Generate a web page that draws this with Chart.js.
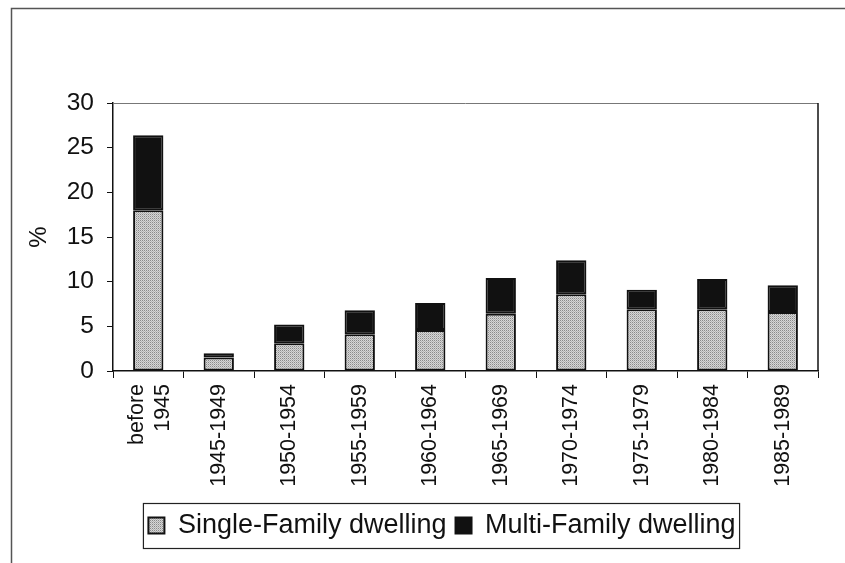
<!DOCTYPE html>
<html>
<head>
<meta charset="utf-8">
<script src="https://cdn.jsdelivr.net/npm/chart.js@4.4.1/dist/chart.umd.min.js"></script>
<style>
  html, body { margin: 0; padding: 0; background: #fff; }
  #wrap { width: 845px; height: 563px; }
</style>
</head>
<body>
<div id="wrap"><canvas id="chart" width="845" height="563"></canvas></div>
<script>
// periods of construction
const periods = [['before', '1945'], '1945-1949', '1950-1954', '1955-1959', '1960-1964',
  '1965-1969', '1970-1974', '1975-1979', '1980-1984', '1985-1989'];
// share of dwellings, %
const singleFamily = [18.0, 1.5, 3.1, 4.1, 4.6, 6.4, 8.6, 6.9, 6.9, 6.6];
const multiFamily = [8.4, 0.5, 2.1, 2.7, 3.0, 4.0, 3.8, 2.2, 3.4, 3.0];
const yTicks = [0, 5, 10, 15, 20, 25, 30];

const FONT = "'Liberation Sans', Arial, sans-serif";

// stippled grey fill like the scanned original
function stipple() {
  const c = document.createElement('canvas');
  c.width = 2; c.height = 2;
  const g = c.getContext('2d');
  g.fillStyle = '#d6d6d6';
  g.fillRect(0, 0, 2, 2);
  g.fillStyle = '#8a8a8a';
  g.fillRect(0, 0, 1, 1);
  g.fillStyle = '#b4b4b4';
  g.fillRect(1, 1, 1, 1);
  return g.createPattern(c, 'repeat');
}
const greyFill = stipple();

const LEGEND_SHIFT = 23;

const framePlugin = {
  id: 'frame',
  afterLayout(chart) {
    const lg = chart.legend;
    lg.left += LEGEND_SHIFT;
    lg.right += LEGEND_SHIFT;
  },
  beforeDraw(chart) {
    // centre the two-line "before 1945" label on its bar
    const items = chart.scales.x.getLabelItems();
    items.forEach(it => {
      if (!Array.isArray(it.label)) return;
      if (it._orig === undefined) it._orig = it.textOffset;
      it.textOffset = it._orig - 11;
    });
  },
  afterDraw(chart) {
    const ctx = chart.ctx;
    const a = chart.chartArea;
    ctx.save();
    // page frame of the scan
    ctx.strokeStyle = '#555';
    ctx.lineWidth = 1.5;
    ctx.beginPath();
    ctx.moveTo(11.5, 563);
    ctx.lineTo(11.5, 8.5);
    ctx.lineTo(845, 8.5);
    ctx.stroke();
    // plot box top and right
    ctx.strokeStyle = '#777';
    ctx.lineWidth = 1;
    ctx.beginPath();
    ctx.moveTo(a.left, a.top + 0.5);
    ctx.lineTo(a.right, a.top + 0.5);
    ctx.stroke();
    ctx.strokeStyle = '#111';
    ctx.lineWidth = 1.5;
    ctx.beginPath();
    ctx.moveTo(a.right, a.top);
    ctx.lineTo(a.right, a.bottom);
    ctx.stroke();
    // legend box
    const lg = chart.legend;
    const pad = lg.options.labels.padding;
    const w = lg.lineWidths[0];
    const x0 = (lg.left + pad + lg.right - w) / 2;
    ctx.strokeStyle = '#222';
    ctx.lineWidth = 1.2;
    ctx.strokeRect(x0 - 5, lg.top + 0.5, w - pad + 9, lg.height - 1);
    ctx.restore();
  }
};

new Chart(document.getElementById('chart'), {
  type: 'bar',
  data: {
    labels: periods,
    datasets: [{
      label: 'Single-Family dwelling',
      data: singleFamily,
      backgroundColor: greyFill,
      borderColor: '#111',
      borderWidth: 2,
      borderSkipped: false
    }, {
      label: 'Multi-Family dwelling',
      data: multiFamily,
      backgroundColor: '#111',
      borderColor: '#111',
      borderWidth: 2,
      borderSkipped: false
    }]
  },
  options: {
    responsive: false,
    animation: false,
    layout: { padding: { left: 20, right: 27, top: 103, bottom: 14 } },
    datasets: { bar: { categoryPercentage: 0.43, barPercentage: 1 } },
    scales: {
      x: {
        stacked: true,
        afterFit: s => { s.height = 132; },
        border: { color: '#111', width: 1.5 },
        grid: { drawOnChartArea: false, color: '#111', tickLength: 7 },
        ticks: {
          color: '#111', minRotation: 90, maxRotation: 90, padding: 6,
          font: { family: FONT, size: 21.5 }
        }
      },
      y: {
        stacked: true,
        min: 0, max: 30,
        afterFit: s => { s.width = 93; },
        afterBuildTicks: s => { s.ticks = yTicks.map(v => ({ value: v })); },
        border: { color: '#111', width: 1.5 },
        grid: { drawOnChartArea: false, color: '#111', tickLength: 6 },
        ticks: { color: '#111', padding: 13, font: { family: FONT, size: 24.5 } },
        title: {
          display: true, text: '%', color: '#111',
          padding: { top: 5, bottom: 0 },
          font: { family: FONT, size: 24 }
        }
      }
    },
    plugins: {
      legend: {
        position: 'bottom',
        labels: {
          color: '#111', boxWidth: 16, boxHeight: 16, padding: 9,
          font: { family: FONT, size: 27 }
        }
      },
      tooltip: { enabled: false }
    }
  },
  plugins: [framePlugin]
});
</script>
</body>
</html>
